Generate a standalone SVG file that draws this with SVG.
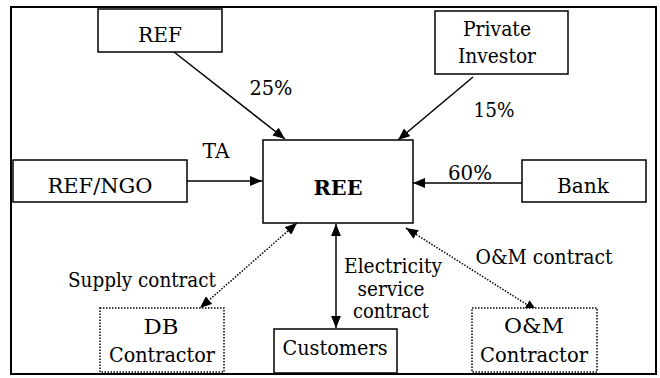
<svg xmlns="http://www.w3.org/2000/svg" width="660" height="378" viewBox="0 0 660 378">
  <style>
    .box { fill: #ffffff; stroke: #000000; stroke-width: 1.5; }
    .dot { fill: #ffffff; stroke: #000000; stroke-width: 1.5; stroke-dasharray: 1.5 1.5; }
    text { font-family: 'DejaVu Serif', 'Liberation Serif', serif; font-size: 21px; fill: #000000; text-anchor: middle; }
    .bold { font-weight: bold; }
    .ln { stroke: #000000; stroke-width: 1.5; fill: none; }
    .dl { stroke: #000000; stroke-width: 1.5; fill: none; stroke-dasharray: 1.5 1.5; }
  </style>
  <defs>
    <marker id="head" viewBox="0 0 12 10" refX="12" refY="5" markerWidth="12" markerHeight="10" markerUnits="userSpaceOnUse" orient="auto-start-reverse">
      <path d="M0,0 L12,5 L0,10 Z" fill="#000000"/>
    </marker>
  </defs>

  <!-- outer frame -->
  <rect x="11" y="7" width="645" height="367" fill="#ffffff" stroke="#000000" stroke-width="2"/>

  <!-- connectors and their labels -->
  <g id="connectors">
    <line class="ln" x1="174" y1="52" x2="285" y2="139" marker-end="url(#head)"/>
    <line class="ln" x1="473" y1="77" x2="398" y2="140" marker-end="url(#head)"/>
    <line class="ln" x1="187" y1="181" x2="262" y2="181" marker-end="url(#head)"/>
    <line class="ln" x1="522" y1="183" x2="413" y2="183" marker-end="url(#head)"/>
    <line class="ln" x1="336" y1="224" x2="336" y2="328" marker-start="url(#head)" marker-end="url(#head)"/>
    <line class="dl" x1="297" y1="223" x2="200" y2="308" marker-start="url(#head)" marker-end="url(#head)"/>
    <line class="dl" x1="406" y1="228" x2="537" y2="311" marker-start="url(#head)" marker-end="url(#head)"/>
    <text x="271" y="95" textLength="43" lengthAdjust="spacingAndGlyphs">25%</text>
    <text x="494" y="117" textLength="41" lengthAdjust="spacingAndGlyphs">15%</text>
    <text x="216" y="158" textLength="27" lengthAdjust="spacingAndGlyphs">TA</text>
    <text x="470" y="180" textLength="44" lengthAdjust="spacingAndGlyphs">60%</text>
    <text x="142" y="287" textLength="148" lengthAdjust="spacingAndGlyphs">Supply contract</text>
    <text x="393" y="273" textLength="98" lengthAdjust="spacingAndGlyphs">Electricity</text>
    <text x="391" y="296" textLength="67" lengthAdjust="spacingAndGlyphs">service</text>
    <text x="391" y="318" textLength="76" lengthAdjust="spacingAndGlyphs">contract</text>
    <text x="544" y="264" textLength="137" lengthAdjust="spacingAndGlyphs">O&amp;M contract</text>
  </g>

  <g id="ref">
    <rect class="box" x="98" y="9" width="124" height="43"/>
    <text x="160" y="42" textLength="44" lengthAdjust="spacingAndGlyphs">REF</text>
  </g>
  <g id="private-investor">
    <rect class="box" x="435" y="11" width="133" height="63"/>
    <text x="497" y="36" textLength="68" lengthAdjust="spacingAndGlyphs">Private</text>
    <text x="497" y="63" textLength="78" lengthAdjust="spacingAndGlyphs">Investor</text>
  </g>
  <g id="ref-ngo">
    <rect class="box" x="13" y="160" width="174" height="42"/>
    <text x="100" y="193" textLength="105" lengthAdjust="spacingAndGlyphs">REF/NGO</text>
  </g>
  <g id="ree">
    <rect class="box" x="263" y="140" width="150" height="83"/>
    <text class="bold" x="338" y="195" textLength="49" lengthAdjust="spacingAndGlyphs">REE</text>
  </g>
  <g id="bank">
    <rect class="box" x="522" y="160" width="124" height="42"/>
    <text x="583" y="193" textLength="52" lengthAdjust="spacingAndGlyphs">Bank</text>
  </g>
  <g id="db-contractor">
    <rect class="dot" x="100" y="308" width="124" height="64"/>
    <text x="161" y="334" textLength="35" lengthAdjust="spacingAndGlyphs">DB</text>
    <text x="162" y="362" textLength="106" lengthAdjust="spacingAndGlyphs">Contractor</text>
  </g>
  <g id="customers">
    <rect class="box" x="274" y="329" width="123" height="44"/>
    <text x="335" y="355" textLength="105" lengthAdjust="spacingAndGlyphs">Customers</text>
  </g>
  <g id="om-contractor">
    <rect class="dot" x="472" y="308" width="125" height="64"/>
    <text x="534" y="333" textLength="60" lengthAdjust="spacingAndGlyphs">O&amp;M</text>
    <text x="534" y="362" textLength="108" lengthAdjust="spacingAndGlyphs">Contractor</text>
  </g>
</svg>
